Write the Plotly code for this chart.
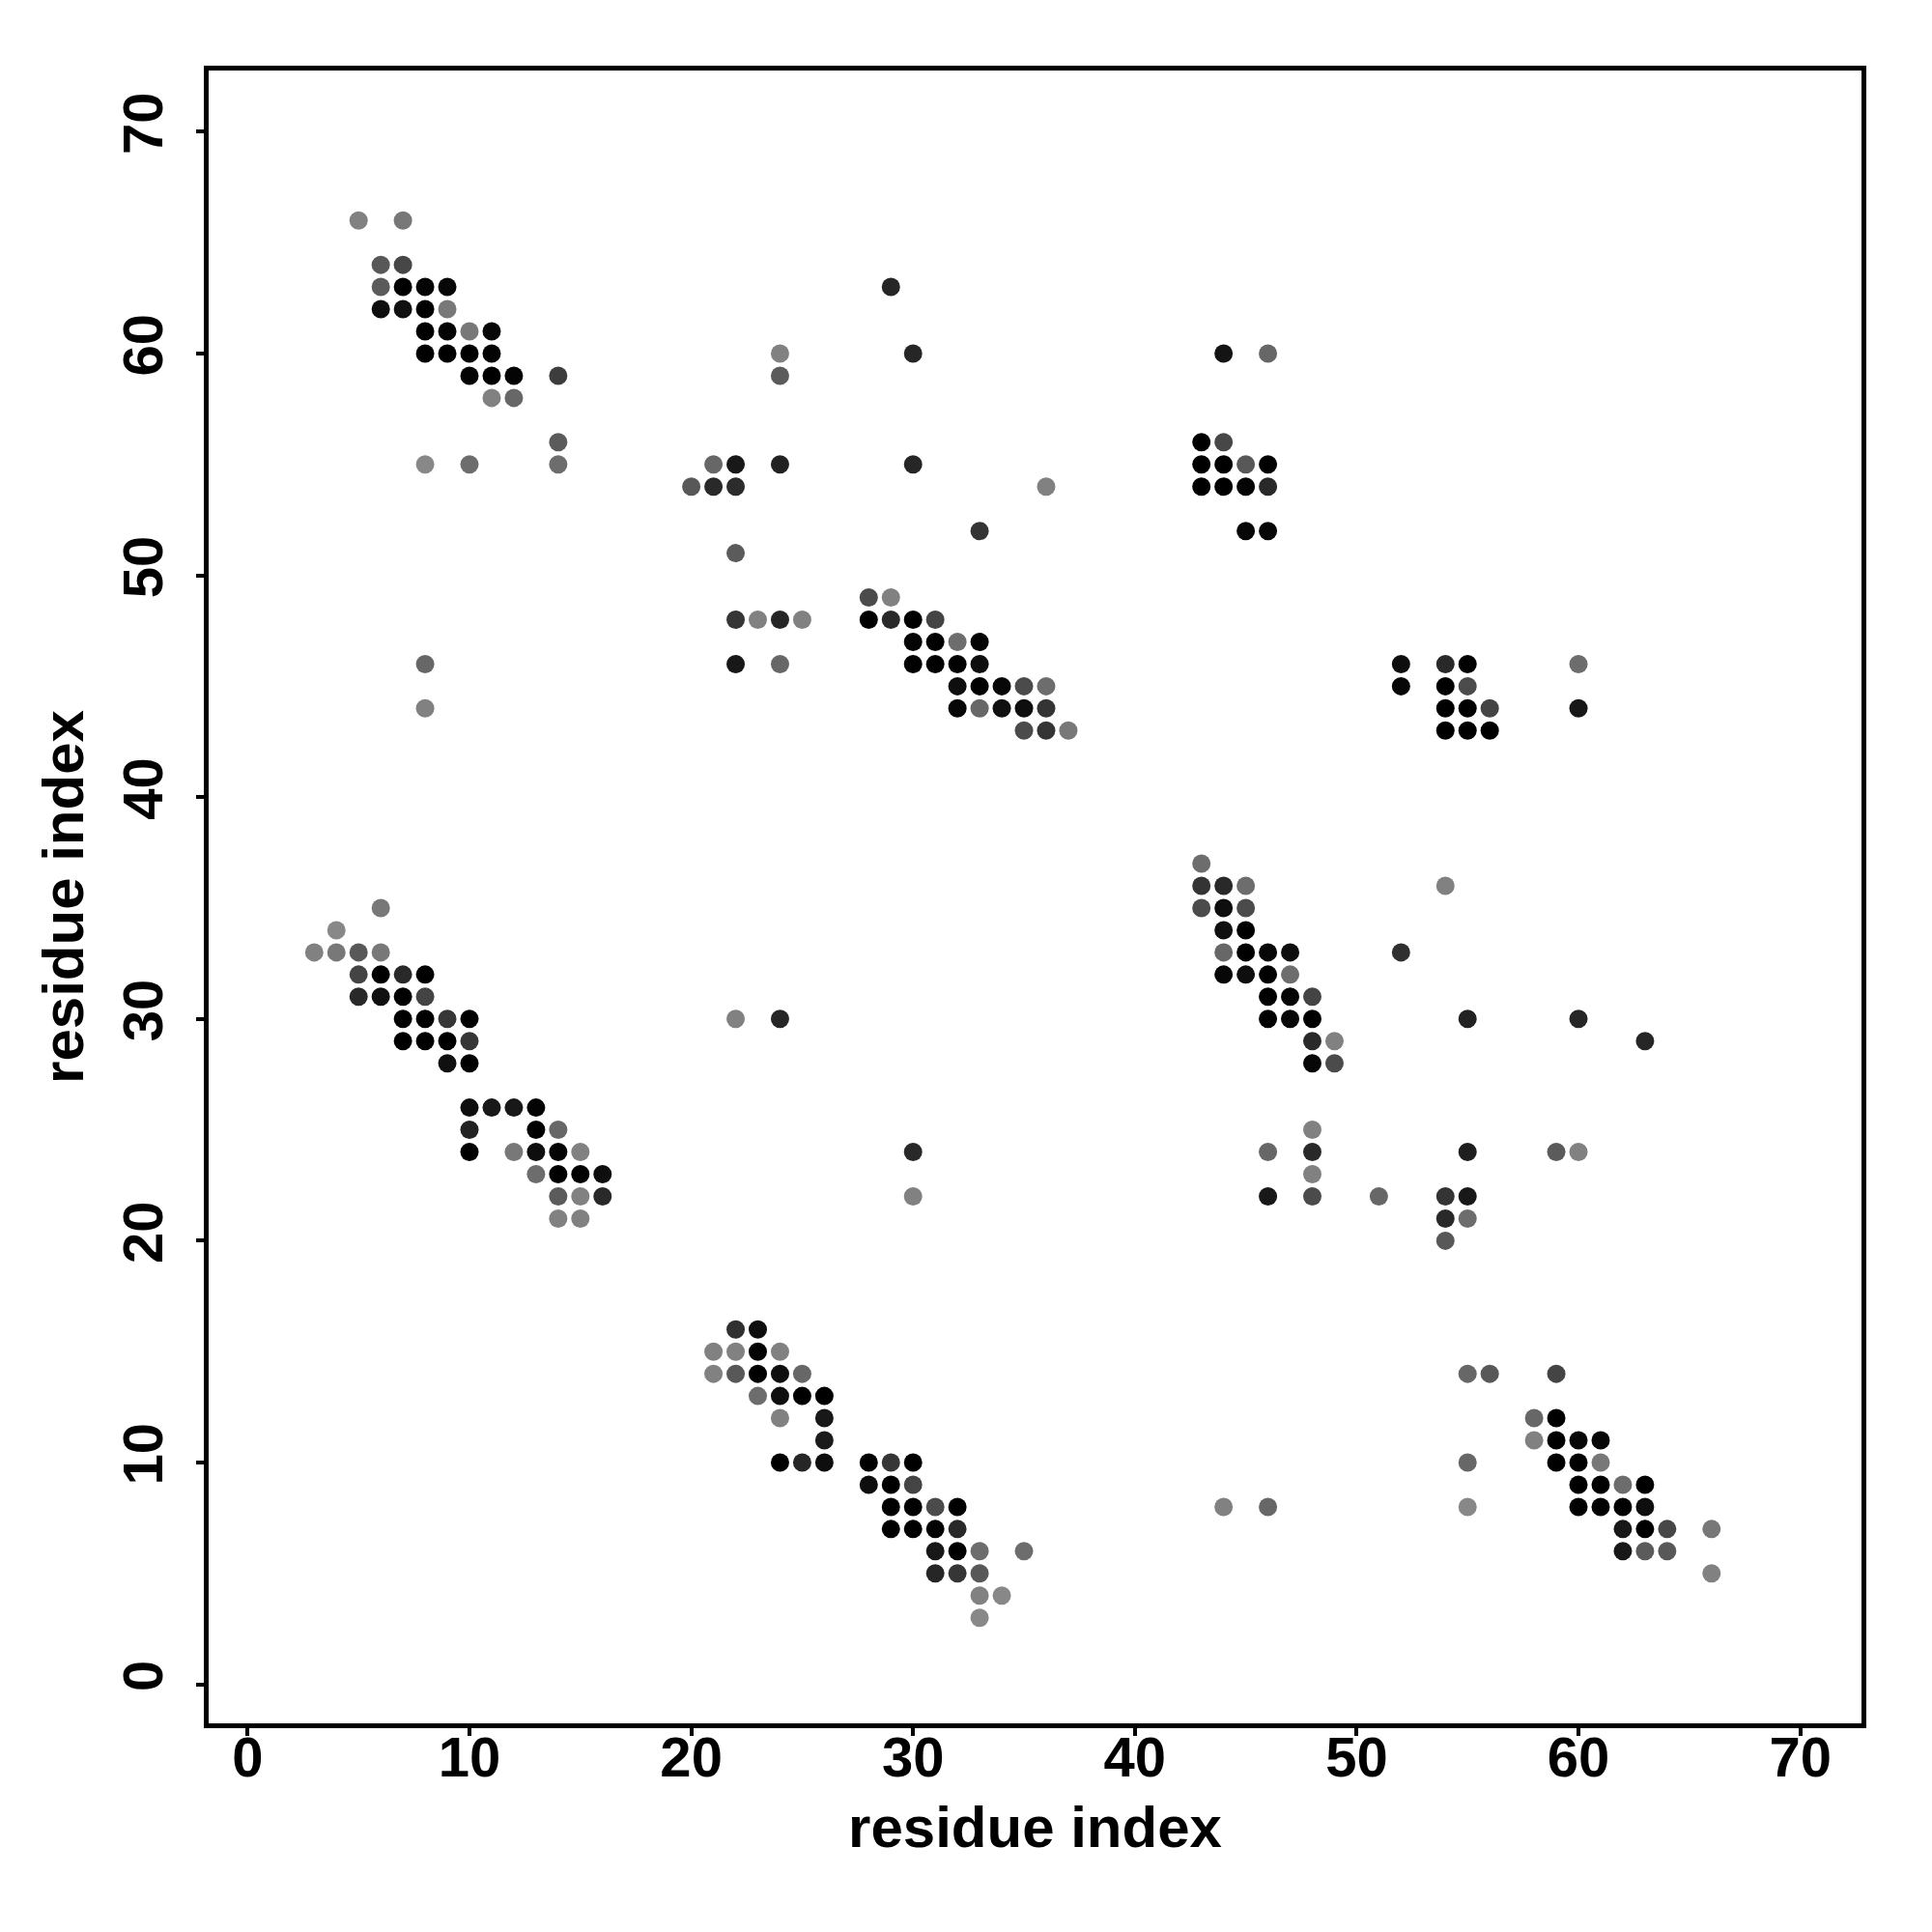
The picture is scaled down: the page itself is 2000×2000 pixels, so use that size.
import plotly.graph_objects as go

# contact map: residue i (x), residue j (y), contact strength (0 = light grey, 1 = black)
residue_x = [
    5, 7,
    6, 7,
    6, 7, 8, 9,
    6, 7, 8, 9,
    8, 9, 10, 11,
    8, 9, 10, 11,
    10, 11, 12, 14,
    11, 12,
    14,
    8, 10, 14,
    21, 22, 24,
    20, 21, 22,
    22,
    29, 24, 24, 30, 44, 46,
    30, 36, 33,
    43, 44,
    43, 44, 45, 46,
    43, 44, 45, 46,
    45, 46,
    28, 29,
    22, 23, 24, 25, 28, 29, 30, 31,
    30, 31, 32, 33,
    8, 22, 24, 30, 31, 32, 33,
    52, 54, 55, 60,
    32, 33, 34, 35, 36,
    52, 54, 55,
    8, 32, 33, 34, 35, 36,
    54, 55, 56, 60,
    35, 36, 37,
    54, 55, 56,
    43,
    43, 44, 45, 54,
    6, 43, 44, 45,
    4, 44, 45,
    3, 4, 5, 6, 44, 45, 46, 47, 52,
    5, 6, 7, 8, 44, 45, 46, 47,
    5, 6, 7, 8, 46, 47, 48,
    7, 8, 9, 10, 22, 24, 46, 47, 48, 55, 60,
    7, 8, 9, 10, 48, 49, 63,
    9, 10, 48, 49,
    10, 11, 12, 13,
    10, 13, 14, 48,
    10, 12, 13, 14, 15, 30, 46, 48, 55, 59, 60,
    13, 14, 15, 16, 48,
    14, 15, 16, 30, 46, 48, 51, 54, 55,
    14, 15, 54, 55,
    54,
    22, 23,
    21, 22, 23, 24,
    21, 22, 23, 24, 25, 55, 56, 59,
    23, 24, 25, 26,
    24, 26, 58, 59,
    26, 58, 59, 60, 61,
    24, 25, 26, 28, 29, 30, 55, 59, 60, 61,
    28, 29, 30, 60, 61, 62, 63,
    29, 30, 31, 32, 44, 46, 55, 60, 61, 62, 63,
    29, 30, 31, 32, 62, 63, 64, 66,
    31, 32, 33, 35, 62, 63, 64,
    31, 32, 33, 66,
    33, 34,
    33,
]

residue_y = [
    66, 66,
    64, 64,
    63, 63, 63, 63,
    62, 62, 62, 62,
    61, 61, 61, 61,
    60, 60, 60, 60,
    59, 59, 59, 59,
    58, 58,
    56,
    55, 55, 55,
    55, 55, 55,
    54, 54, 54,
    51,
    63, 60, 59, 60, 60, 60,
    55, 54, 52,
    56, 56,
    55, 55, 55, 55,
    54, 54, 54, 54,
    52, 52,
    49, 49,
    48, 48, 48, 48, 48, 48, 48, 48,
    47, 47, 47, 47,
    46, 46, 46, 46, 46, 46, 46,
    46, 46, 46, 46,
    45, 45, 45, 45, 45,
    45, 45, 45,
    44, 44, 44, 44, 44, 44,
    44, 44, 44, 44,
    43, 43, 43,
    43, 43, 43,
    37,
    36, 36, 36, 36,
    35, 35, 35, 35,
    34, 34, 34,
    33, 33, 33, 33, 33, 33, 33, 33, 33,
    32, 32, 32, 32, 32, 32, 32, 32,
    31, 31, 31, 31, 31, 31, 31,
    30, 30, 30, 30, 30, 30, 30, 30, 30, 30, 30,
    29, 29, 29, 29, 29, 29, 29,
    28, 28, 28, 28,
    26, 26, 26, 26,
    25, 25, 25, 25,
    24, 24, 24, 24, 24, 24, 24, 24, 24, 24, 24,
    23, 23, 23, 23, 23,
    22, 22, 22, 22, 22, 22, 22, 22, 22,
    21, 21, 21, 21,
    20,
    16, 16,
    15, 15, 15, 15,
    14, 14, 14, 14, 14, 14, 14, 14,
    13, 13, 13, 13,
    12, 12, 12, 12,
    11, 11, 11, 11, 11,
    10, 10, 10, 10, 10, 10, 10, 10, 10, 10,
    9, 9, 9, 9, 9, 9, 9,
    8, 8, 8, 8, 8, 8, 8, 8, 8, 8, 8,
    7, 7, 7, 7, 7, 7, 7, 7,
    6, 6, 6, 6, 6, 6, 6,
    5, 5, 5, 5,
    4, 4,
    3,
]

contact_strength = [
    0.05, 0.12,
    0.35, 0.48,
    0.33, 1.0, 0.97, 0.95,
    0.9, 0.88, 1.0, 0.12,
    1.0, 0.97, 0.12, 0.95,
    1.0, 1.0, 1.0, 0.97,
    0.97, 1.0, 0.97, 0.55,
    0.05, 0.24,
    0.33,
    0.0, 0.2, 0.2,
    0.24, 0.82, 0.75,
    0.35, 0.7, 0.68,
    0.33,
    0.72, 0.05, 0.33, 0.72, 0.85, 0.24,
    0.72, 0.05, 0.62,
    1.0, 0.48,
    1.0, 1.0, 0.35, 1.0,
    1.0, 1.0, 0.97, 0.7,
    0.95, 0.95,
    0.45, 0.05,
    0.6, 0.05, 0.72, 0.05, 1.0, 0.7, 1.0, 0.5,
    0.97, 1.0, 0.2, 0.97,
    0.24, 0.82, 0.24, 1.0, 1.0, 1.0, 0.9,
    0.9, 0.7, 1.0, 0.2,
    0.9, 1.0, 0.95, 0.45, 0.2,
    0.95, 1.0, 0.45,
    0.05, 0.95, 0.24, 0.88, 0.9, 0.62,
    1.0, 1.0, 0.5, 0.82,
    0.45, 0.62, 0.12,
    1.0, 1.0, 1.0,
    0.2,
    0.62, 0.7, 0.2, 0.05,
    0.12, 0.45, 0.9, 0.45,
    0.0, 0.88, 1.0,
    0.05, 0.12, 0.35, 0.12, 0.24, 1.0, 0.95, 0.9, 0.65,
    0.5, 1.0, 0.7, 1.0, 0.95, 0.9, 1.0, 0.2,
    0.7, 0.88, 1.0, 0.5, 1.0, 0.97, 0.5,
    1.0, 1.0, 0.6, 1.0, 0.05, 0.72, 1.0, 0.95, 1.0, 0.75, 0.72,
    1.0, 1.0, 1.0, 0.6, 0.7, 0.05, 0.72,
    0.88, 1.0, 0.95, 0.45,
    0.9, 0.82, 0.82, 0.97,
    0.75, 1.0, 0.24, 0.05,
    1.0, 0.12, 0.9, 0.97, 0.05, 0.7, 0.24, 0.7, 0.78, 0.33, 0.05,
    0.2, 1.0, 1.0, 0.9, 0.05,
    0.33, 0.05, 0.7, 0.05, 0.82, 0.45, 0.24, 0.62, 0.82,
    0.05, 0.05, 0.7, 0.2,
    0.35,
    0.65, 0.9,
    0.05, 0.05, 0.97, 0.05,
    0.05, 0.35, 1.0, 0.9, 0.24, 0.24, 0.35, 0.5,
    0.2, 0.9, 1.0, 1.0,
    0.05, 0.82, 0.24, 1.0,
    0.8, 0.05, 1.0, 0.95, 0.95,
    1.0, 0.72, 0.9, 1.0, 0.6, 1.0, 0.24, 1.0, 1.0, 0.12,
    0.9, 1.0, 0.5, 1.0, 1.0, 0.2, 1.0,
    1.0, 1.0, 0.45, 1.0, 0.05, 0.24, 0.0, 1.0, 1.0, 1.0, 0.9,
    1.0, 1.0, 0.97, 0.7, 0.82, 1.0, 0.48, 0.12,
    0.82, 1.0, 0.2, 0.2, 0.82, 0.33, 0.35,
    0.72, 0.6, 0.35, 0.05,
    0.05, 0.0,
    0.0,
]

tick_values = [0, 10, 20, 30, 40, 50, 60, 70]
axis_title = "residue index"

FONT = "Liberation Sans, Arial, Helvetica, sans-serif"

fig = go.Figure(
    go.Scatter(
        x=residue_x,
        y=residue_y,
        mode="markers",
        marker=dict(
            size=19,
            color=contact_strength,
            colorscale=[[0, "rgb(136,136,136)"], [1, "rgb(0,0,0)"]],
            cmin=0,
            cmax=1,
            showscale=False,
            line=dict(width=0),
        ),
        hoverinfo="x+y",
    )
)

axis_common = dict(
    range=[-1.76, 72.76],
    tickmode="array",
    tickvals=tick_values,
    ticktext=[str(t) for t in tick_values],
    ticks="outside",
    ticklen=8,
    tickwidth=4,
    tickcolor="black",
    showline=True,
    linewidth=5,
    linecolor="black",
    mirror=True,
    showgrid=False,
    zeroline=False,
    tickfont=dict(family=FONT, size=58, color="black", weight="bold"),
)

title_font = dict(family=FONT, size=60, color="black", weight="bold")

fig.update_layout(
    width=2000,
    height=2000,
    paper_bgcolor="white",
    plot_bgcolor="white",
    showlegend=False,
    margin=dict(l=208, r=81, t=65, b=224, autoexpand=False),
    xaxis=dict(
        **axis_common,
        ticklabelstandoff=-28,
        title=dict(text=axis_title, font=title_font, standoff=22),
    ),
    yaxis=dict(
        **axis_common,
        tickangle=-90,
        ticklabelstandoff=12,
        title=dict(text=axis_title, font=title_font, standoff=10),
    ),
)

fig.write_html("out.html")
